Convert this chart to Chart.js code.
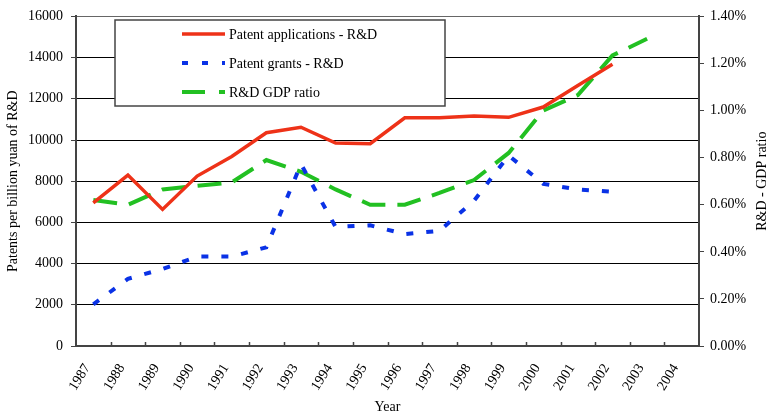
<!DOCTYPE html>
<html>
<head>
<meta charset="utf-8">
<script src="https://cdn.jsdelivr.net/npm/chart.js@4.4.1/dist/chart.umd.min.js"></script>
<style>
  html, body { margin: 0; padding: 0; background: #fff; }
  #wrap { width: 769px; height: 416px; position: relative; }
</style>
</head>
<body>
<div id="wrap"><canvas id="patentChart"></canvas></div>
<script>
// Years on the category axis
const years = ['1987', '1988', '1989', '1990', '1991', '1992', '1993', '1994', '1995',
               '1996', '1997', '1998', '1999', '2000', '2001', '2002', '2003', '2004'];

// Patents per billion yuan of R&D (left axis)
const applications = [6950, 8300, 6630, 8250, 9200, 10350, 10620, 9850, 9820,
                      11080, 11080, 11160, 11100, 11600, 12650, 13680];
const grants = [2020, 3260, 3740, 4340, 4340, 4790, 8830, 5780, 5860,
                5430, 5590, 7050, 9250, 7870, 7600, 7490];

// R&D / GDP ratio in percent (right axis)
const gdpRatio = [0.62, 0.60, 0.665, 0.68, 0.695, 0.79, 0.74, 0.665, 0.60,
                  0.60, 0.65, 0.705, 0.82, 1.00, 1.066, 1.234, 1.305];

const leftTicks = { min: 0, max: 16000, step: 2000 };
const rightTicks = { min: 0, max: 1.4, step: 0.2 };

const FONT = '"Liberation Serif", "Times New Roman", serif';
Chart.defaults.font.family = FONT;
Chart.defaults.font.size = 14;
Chart.defaults.color = '#000';

const RED = '#ee3218';
const BLUE = '#0a32e6';
const GREEN = '#22c022';

// legend box, inside ticks on the x axis and the right axis title
const extras = {
    id: 'extras',
    afterDraw(chart) {
        const { ctx, chartArea, scales } = chart;
        const x = scales.x;

        // small inside tick marks between the years
        ctx.save();
        ctx.strokeStyle = '#444';
        ctx.lineWidth = 1.5;
        const n = years.length;
        for (let i = 1; i < n; i++) {
            const px = Math.round(x.left + i * x.width / n) + 0.5;
            ctx.beginPath();
            ctx.moveTo(px, chartArea.bottom);
            ctx.lineTo(px, chartArea.bottom - 4);
            ctx.stroke();
        }
        ctx.restore();

        // right axis title, reading bottom to top
        ctx.save();
        ctx.translate(scales.y1.right - 7, (chartArea.top + chartArea.bottom) / 2);
        ctx.rotate(-Math.PI / 2);
        ctx.font = '14px ' + FONT;
        ctx.fillStyle = '#000';
        ctx.textAlign = 'center';
        ctx.textBaseline = 'middle';
        ctx.fillText('R&D - GDP ratio', 0, 0);
        ctx.restore();

        // legend
        const box = { left: 115, top: 20, right: 445, bottom: 106 };
        ctx.save();
        ctx.fillStyle = '#fff';
        ctx.fillRect(box.left, box.top, box.right - box.left, box.bottom - box.top);
        ctx.strokeStyle = '#444';
        ctx.lineWidth = 1.5;
        ctx.strokeRect(box.left, box.top, box.right - box.left, box.bottom - box.top);

        const items = chart.data.datasets;
        const rowsY = [34, 63, 92];
        items.forEach((ds, i) => {
            const y = rowsY[i];
            ctx.strokeStyle = ds.borderColor;
            ctx.lineWidth = ds.borderWidth;
            ctx.setLineDash(ds.legendDash || []);
            ctx.beginPath();
            ctx.moveTo(182, y);
            ctx.lineTo(225, y);
            ctx.stroke();
            ctx.setLineDash([]);
            ctx.font = '14px ' + FONT;
            ctx.fillStyle = '#000';
            ctx.textAlign = 'left';
            ctx.textBaseline = 'middle';
            ctx.fillText(ds.label, 229, y + 1);
        });
        ctx.restore();
    }
};

new Chart(document.getElementById('patentChart'), {
    type: 'line',
    data: {
        labels: years,
        datasets: [
            {
                label: 'Patent applications - R&D',
                data: applications,
                yAxisID: 'y',
                borderColor: RED,
                borderWidth: 3.5,
                pointRadius: 0,
                tension: 0
            },
            {
                label: 'Patent grants - R&D',
                data: grants,
                yAxisID: 'y',
                borderColor: BLUE,
                borderWidth: 4,
                borderDash: [7, 13],
                legendDash: [6, 14],
                pointRadius: 0,
                tension: 0
            },
            {
                label: 'R&D GDP ratio',
                data: gdpRatio,
                yAxisID: 'y1',
                borderColor: GREEN,
                borderWidth: 4,
                borderDash: [24, 12],
                legendDash: [23, 14],
                pointRadius: 0,
                tension: 0
            }
        ]
    },
    options: {
        responsive: true,
        maintainAspectRatio: false,
        animation: false,
        layout: { padding: { top: 14, left: 0, right: 0, bottom: 0 } },
        plugins: {
            legend: { display: false },
            tooltip: { enabled: false }
        },
        scales: {
            x: {
                offset: true,
                grid: { offset: true, drawOnChartArea: false, drawTicks: false },
                border: { display: true, color: '#444', width: 2 },
                ticks: { autoSkip: false, maxRotation: 58, minRotation: 58, padding: 15, labelOffset: -6 },
                title: { display: true, text: 'Year', padding: 0 },
                afterFit: (scale) => { scale.height = 70; }
            },
            y: {
                position: 'left',
                min: leftTicks.min,
                max: leftTicks.max,
                ticks: { stepSize: leftTicks.step, padding: 8, callback: (v) => String(v) },
                grid: {
                    color: (c) => (c.tick && c.tick.value === leftTicks.max) ? '#666' : '#000',
                    lineWidth: 1,
                    tickColor: '#444',
                    tickLength: 5
                },
                border: { color: '#444', width: 2 },
                title: { display: true, text: 'Patents per billion yuan of R&D', padding: { top: 5, bottom: 0 } },
                afterFit: (scale) => { scale.width = 76; }
            },
            y1: {
                position: 'right',
                min: rightTicks.min,
                max: rightTicks.max,
                ticks: {
                    stepSize: rightTicks.step,
                    padding: 6,
                    callback: (v) => v.toFixed(2) + '%'
                },
                grid: { drawOnChartArea: false, tickColor: '#444', tickLength: 5 },
                border: { color: '#444', width: 2 },
                afterFit: (scale) => { scale.width = 70; }
            }
        }
    },
    plugins: [extras]
});
</script>
</body>
</html>
